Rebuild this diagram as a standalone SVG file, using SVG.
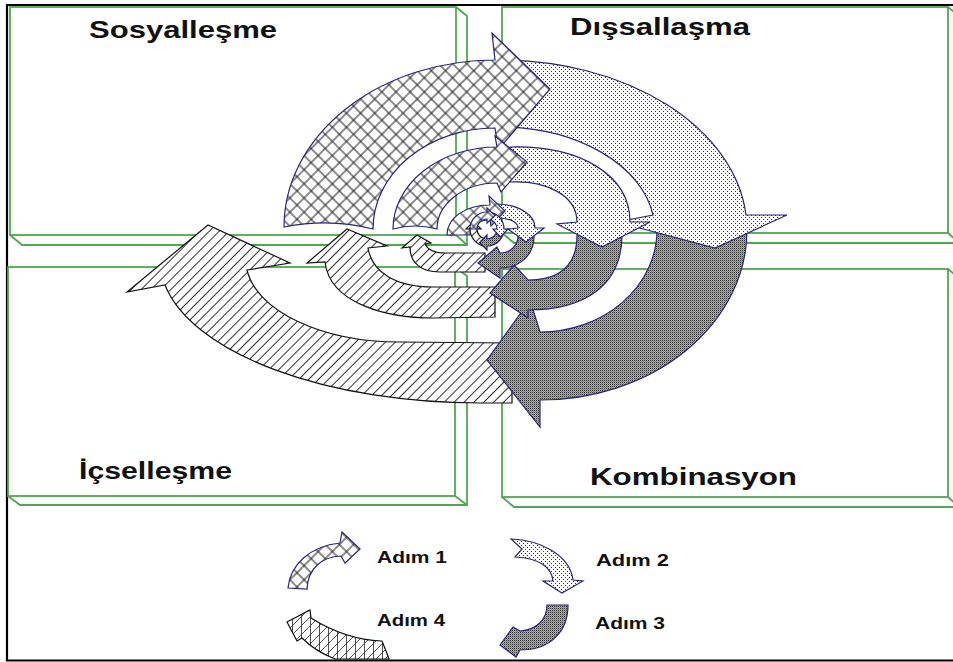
<svg xmlns="http://www.w3.org/2000/svg" width="953" height="662" viewBox="0 0 953 662">
<style>
.bx{fill:none;stroke:#4fa84f;stroke-width:1.8;stroke-linejoin:miter}
.t{font-family:"Liberation Sans",Arial,sans-serif;font-weight:bold;font-size:23px;fill:#111}
.l{font-size:16px}
.a{stroke:#26267a;stroke-width:1.2;stroke-linejoin:miter}
.k{stroke:#111}
.x{fill:url(#pX)}
.d{fill:url(#pD)}
.g{fill:url(#pK)}
.h{fill:url(#pH)}
</style>
<defs>
<pattern id="pX" width="10" height="10" patternUnits="userSpaceOnUse" patternTransform="rotate(45)">
<rect width="10" height="10" fill="#fff"/>
<path d="M0,5H10M5,0V10" stroke="#1a1a1a" stroke-width="1"/>
</pattern>
<pattern id="pH" width="7" height="7" patternUnits="userSpaceOnUse" patternTransform="rotate(45)">
<rect width="7" height="7" fill="#fff"/>
<path d="M3.5,0V7" stroke="#1a1a1a" stroke-width="0.9"/>
</pattern>
<pattern id="pD" width="4" height="4" patternUnits="userSpaceOnUse">
<rect width="4" height="4" fill="#fff"/>
<rect x="1" y="1" width="1" height="1" fill="#333"/>
<rect x="3" y="3" width="1" height="1" fill="#333"/>
</pattern>
<pattern id="pK" width="2" height="2" patternUnits="userSpaceOnUse">
<rect width="2" height="2" fill="#b0b0b0"/>
<rect width="1" height="1" fill="#2a2a2a"/>
<rect x="1" y="1" width="1" height="1" fill="#808080"/>
</pattern>
<pattern id="pG" width="9" height="9" patternUnits="userSpaceOnUse">
<rect width="9" height="9" fill="#fff"/>
<path d="M0,9L9,0M-1,1L1,-1M8,10L10,8M4.5,0V9" stroke="#222" stroke-width="0.8"/>
</pattern>
</defs>
<rect width="953" height="662" fill="#fff"/>
<g id="frame" stroke="#000" stroke-width="2.2" fill="none">
<path d="M7,4V661M6,5H953M6,660.5H953"/>
</g>
<g id="boxes">
<g id="box-sosyallesme">
<rect class="bx" x="10" y="7" width="446" height="228"/>
<path class="bx" d="M10,235L22,245H467V16L456,7M456,235L467,245"/>
<text class="t" x="89" y="38" textLength="188" lengthAdjust="spacingAndGlyphs">Sosyalleşme</text>
</g>
<g id="box-dissallasma">
<rect class="bx" x="502" y="7" width="446" height="226"/>
<path class="bx" d="M502,233L514,243H959V16L948,7M948,233L959,243"/>
<text class="t" x="570" y="35" textLength="180" lengthAdjust="spacingAndGlyphs">Dışsallaşma</text>
</g>
<g id="box-icsellesme">
<rect class="bx" x="8" y="267" width="447" height="229"/>
<path class="bx" d="M8,496L20,505H467V276L455,267M455,496L467,505"/>
<text class="t" x="79" y="479" textLength="153" lengthAdjust="spacingAndGlyphs">İçselleşme</text>
</g>
<g id="box-kombinasyon">
<rect class="bx" x="502" y="269" width="446" height="228"/>
<path class="bx" d="M502,497L514,507H959V278L948,269M948,497L959,507"/>
<text class="t" x="590" y="485" textLength="207" lengthAdjust="spacingAndGlyphs">Kombinasyon</text>
</g>
</g>
<g id="spiral">
<g id="loop-large">
<path id="s4L" class="a k h" d="M512,403L480,403A320,143 0 0 1 165,285L127,292L208,225L290,263L247,270A154,82 0 0 0 400,342L512,343Z"/>
<path id="s3L" class="a g" d="M747,230A207,170 0 0 1 540,400L540,427L487,360L530,300L540,332A117,102 0 0 0 657,230Z"/>
<path id="s2L" class="a d" d="M500,60A247,170 0 0 1 746,215L787,215L715,248L617,222L653,215A155,103 0 0 0 500,127Z"/>
<path id="s1L" class="a x" d="M284,227A211,167 0 0 1 495,60L492,33L550,89L498,150L495,128A122,101 0 0 0 373,229Q330,218 284,227Z"/>
</g>
<g id="loop-medium">
<path id="s4M" class="a k h" d="M495,317L433,318C390,318 330,305 325,262L307,263L347,229L387,246L368,248C372,272 395,287 433,287L495,287Z"/>
<path id="s3M" class="a g" d="M622,235C622,285 585,310 528,310L528,318L490,293L514,265L528,280C560,280 577,265 577,235Z"/>
<path id="s2M" class="a d" d="M510,147C580,145 630,175 630,222L650,222L602,247L557,224L577,222C577,195 545,180 510,182Z"/>
<path id="s1M" class="a x" d="M393,229A104,82 0 0 1 497,147L495,136L527,162L501,192L497,183A60,46 0 0 0 437,229Q415,223 393,229Z"/>
</g>
<g id="loop-small">
<path id="s4S" class="a k h" d="M485,272L440,272C420,272 410,262 410,247L402,248L417,235L431,243L425,244C428,250 435,253 445,253L485,253Z"/>
<path id="s3S" class="a g" d="M534,236C534,255 520,268 500,268L500,278L478,263L497,247L500,253C510,253 518,246 518,236Z"/>
<path id="s2S" class="a d" d="M497,204C520,205 535,215 535,228L544,228L526,242L508,229L518,228C518,222 510,218 497,218Z"/>
<path id="s1S" class="a x" d="M447,235C447,218 465,205 490,205L489,196L505,211L491,226L490,220C478,220 470,226 470,235Z"/>
</g>
<g id="loop-tiny">
<path id="s4T" class="a k h" d="M485,245.9A17,17 0 0 1 470,229L466,229L473.5,221.5L481,229L477,229A10,10 0 0 0 485,238.8Z"/>
<path id="s3T" class="a g" d="M503.9,231A17,17 0 0 1 487,246L487,250L479.5,242.5L487,235L487,239A10,10 0 0 0 496.8,231Z"/>
<path id="s2T" class="a d" d="M489,212.1A17,17 0 0 1 504,229L508,229L500.5,237L493,229L497,229A10,10 0 0 0 489,219.2Z"/>
<path id="s1T" class="a x" d="M470,229A17,17 0 0 1 487,212L487,208L495,215.5L487,223L487,219A10,10 0 0 0 477,229Z"/>
</g>
</g>
<g id="legend">
<g id="legend-1">
<path class="a x" d="M288,588C290,565 310,546 340,543L342,532L360,549L345,563L341,556C322,557 308,568 307,589Z"/>
<text class="t l" x="377" y="563" textLength="70" lengthAdjust="spacingAndGlyphs">Adım 1</text>
</g>
<g id="legend-2">
<path class="a d" d="M511,539C540,540 570,555 573,580L583,581L562,593L543,581L553,581C552,568 540,558 515,557L522,549Z"/>
<text class="t l" x="596" y="566" textLength="73" lengthAdjust="spacingAndGlyphs">Adım 2</text>
</g>
<g id="legend-3">
<path class="a g" d="M547,605L568,605C568,632 550,650 520,650L516,657L500,645L513,627L520,631C536,630 547,620 547,605Z"/>
<text class="t l" x="595" y="629" textLength="70" lengthAdjust="spacingAndGlyphs">Adım 3</text>
</g>
<g id="legend-4">
<path class="a k" fill="url(#pG)" d="M389,659L335,659C322,654 310,646 302,638L297,641L287,622L310,610L311,618C330,630 355,640 382,641L386,651Z"/>
<text class="t l" x="377" y="626" textLength="68" lengthAdjust="spacingAndGlyphs">Adım 4</text>
</g>
</g>
</svg>
